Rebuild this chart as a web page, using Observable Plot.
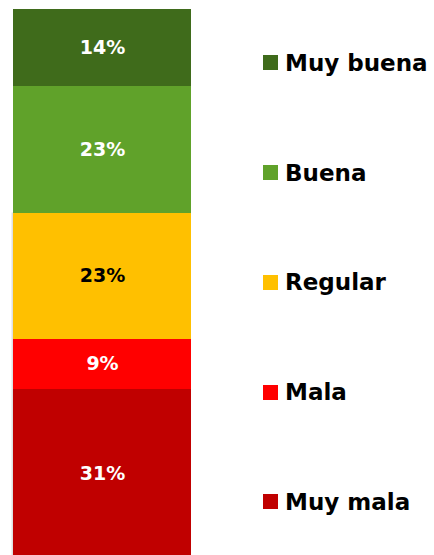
<!DOCTYPE html>
<html>
<head>
<meta charset="utf-8">
<script src="https://cdn.jsdelivr.net/npm/d3@7"></script>
<script src="https://cdn.jsdelivr.net/npm/@observablehq/plot@0.6"></script>
<style>
  html, body { margin: 0; padding: 0; background: #fff; }
  #wrap { display: flex; flex-direction: row; width: 434px; height: 555px; overflow: hidden; }
  #legend { margin-left: 63px; padding-top: 8px; font-family: "DejaVu Sans", sans-serif; font-weight: bold; font-size: 23px; color: #000; }
  .item { height: 109.75px; display: flex; align-items: center; white-space: nowrap; }
  .sw { width: 15px; height: 15px; margin-right: 7px; flex: none; }
</style>
</head>
<body>
<div id="wrap"></div>
<script>
const categories = ["Muy buena", "Buena", "Regular", "Mala", "Muy mala"];
const values = [14, 23, 23, 9, 31];
const colors = ["#3F6B1B", "#60A22A", "#FFC000", "#FF0000", "#C00000"];
const labelColors = ["#fff", "#fff", "#000", "#fff", "#fff"];
const group = "Total";

const data = categories.map((c, i) => ({group, category: c, value: values[i], label: values[i] + "%", lc: labelColors[i]}));
const stackOrder = categories.slice().reverse(); // bottom to top
const shadowed = ["Regular", "Mala", "Muy mala"];

const chart = Plot.plot({
  width: 200,
  height: 555,
  marginTop: 0, marginBottom: 0, marginLeft: 0, marginRight: 0,
  x: {type: "band", domain: [group], range: [13, 191], padding: 0, axis: null},
  y: {domain: [0, 100], range: [559, 9], axis: null},
  color: {domain: categories, range: colors},
  marks: [
    Plot.barY(data, {x: "group", y: d => shadowed.includes(d.category) ? d.value : 0, z: "category", order: stackOrder, fill: "#000", fillOpacity: 0.12, dx: -1.5}),
    Plot.barY(data, {x: "group", y: "value", fill: "category", order: stackOrder, shapeRendering: "crispEdges"}),
    Plot.text(data, Plot.stackY({x: "group", y: "value", z: "category", order: stackOrder, text: "label", fill: "lc", fontSize: 19, fontWeight: "bold", fontFamily: "DejaVu Sans, sans-serif"}))
  ]
});

const wrap = document.getElementById("wrap");
wrap.appendChild(chart);
const legend = document.createElement("div");
legend.id = "legend";
categories.forEach((c, i) => {
  const item = document.createElement("div");
  item.className = "item";
  const sw = document.createElement("span");
  sw.className = "sw";
  sw.style.background = colors[i];
  const t = document.createElement("span");
  t.textContent = c;
  item.appendChild(sw);
  item.appendChild(t);
  legend.appendChild(item);
});
wrap.appendChild(legend);
</script>
</body>
</html>
